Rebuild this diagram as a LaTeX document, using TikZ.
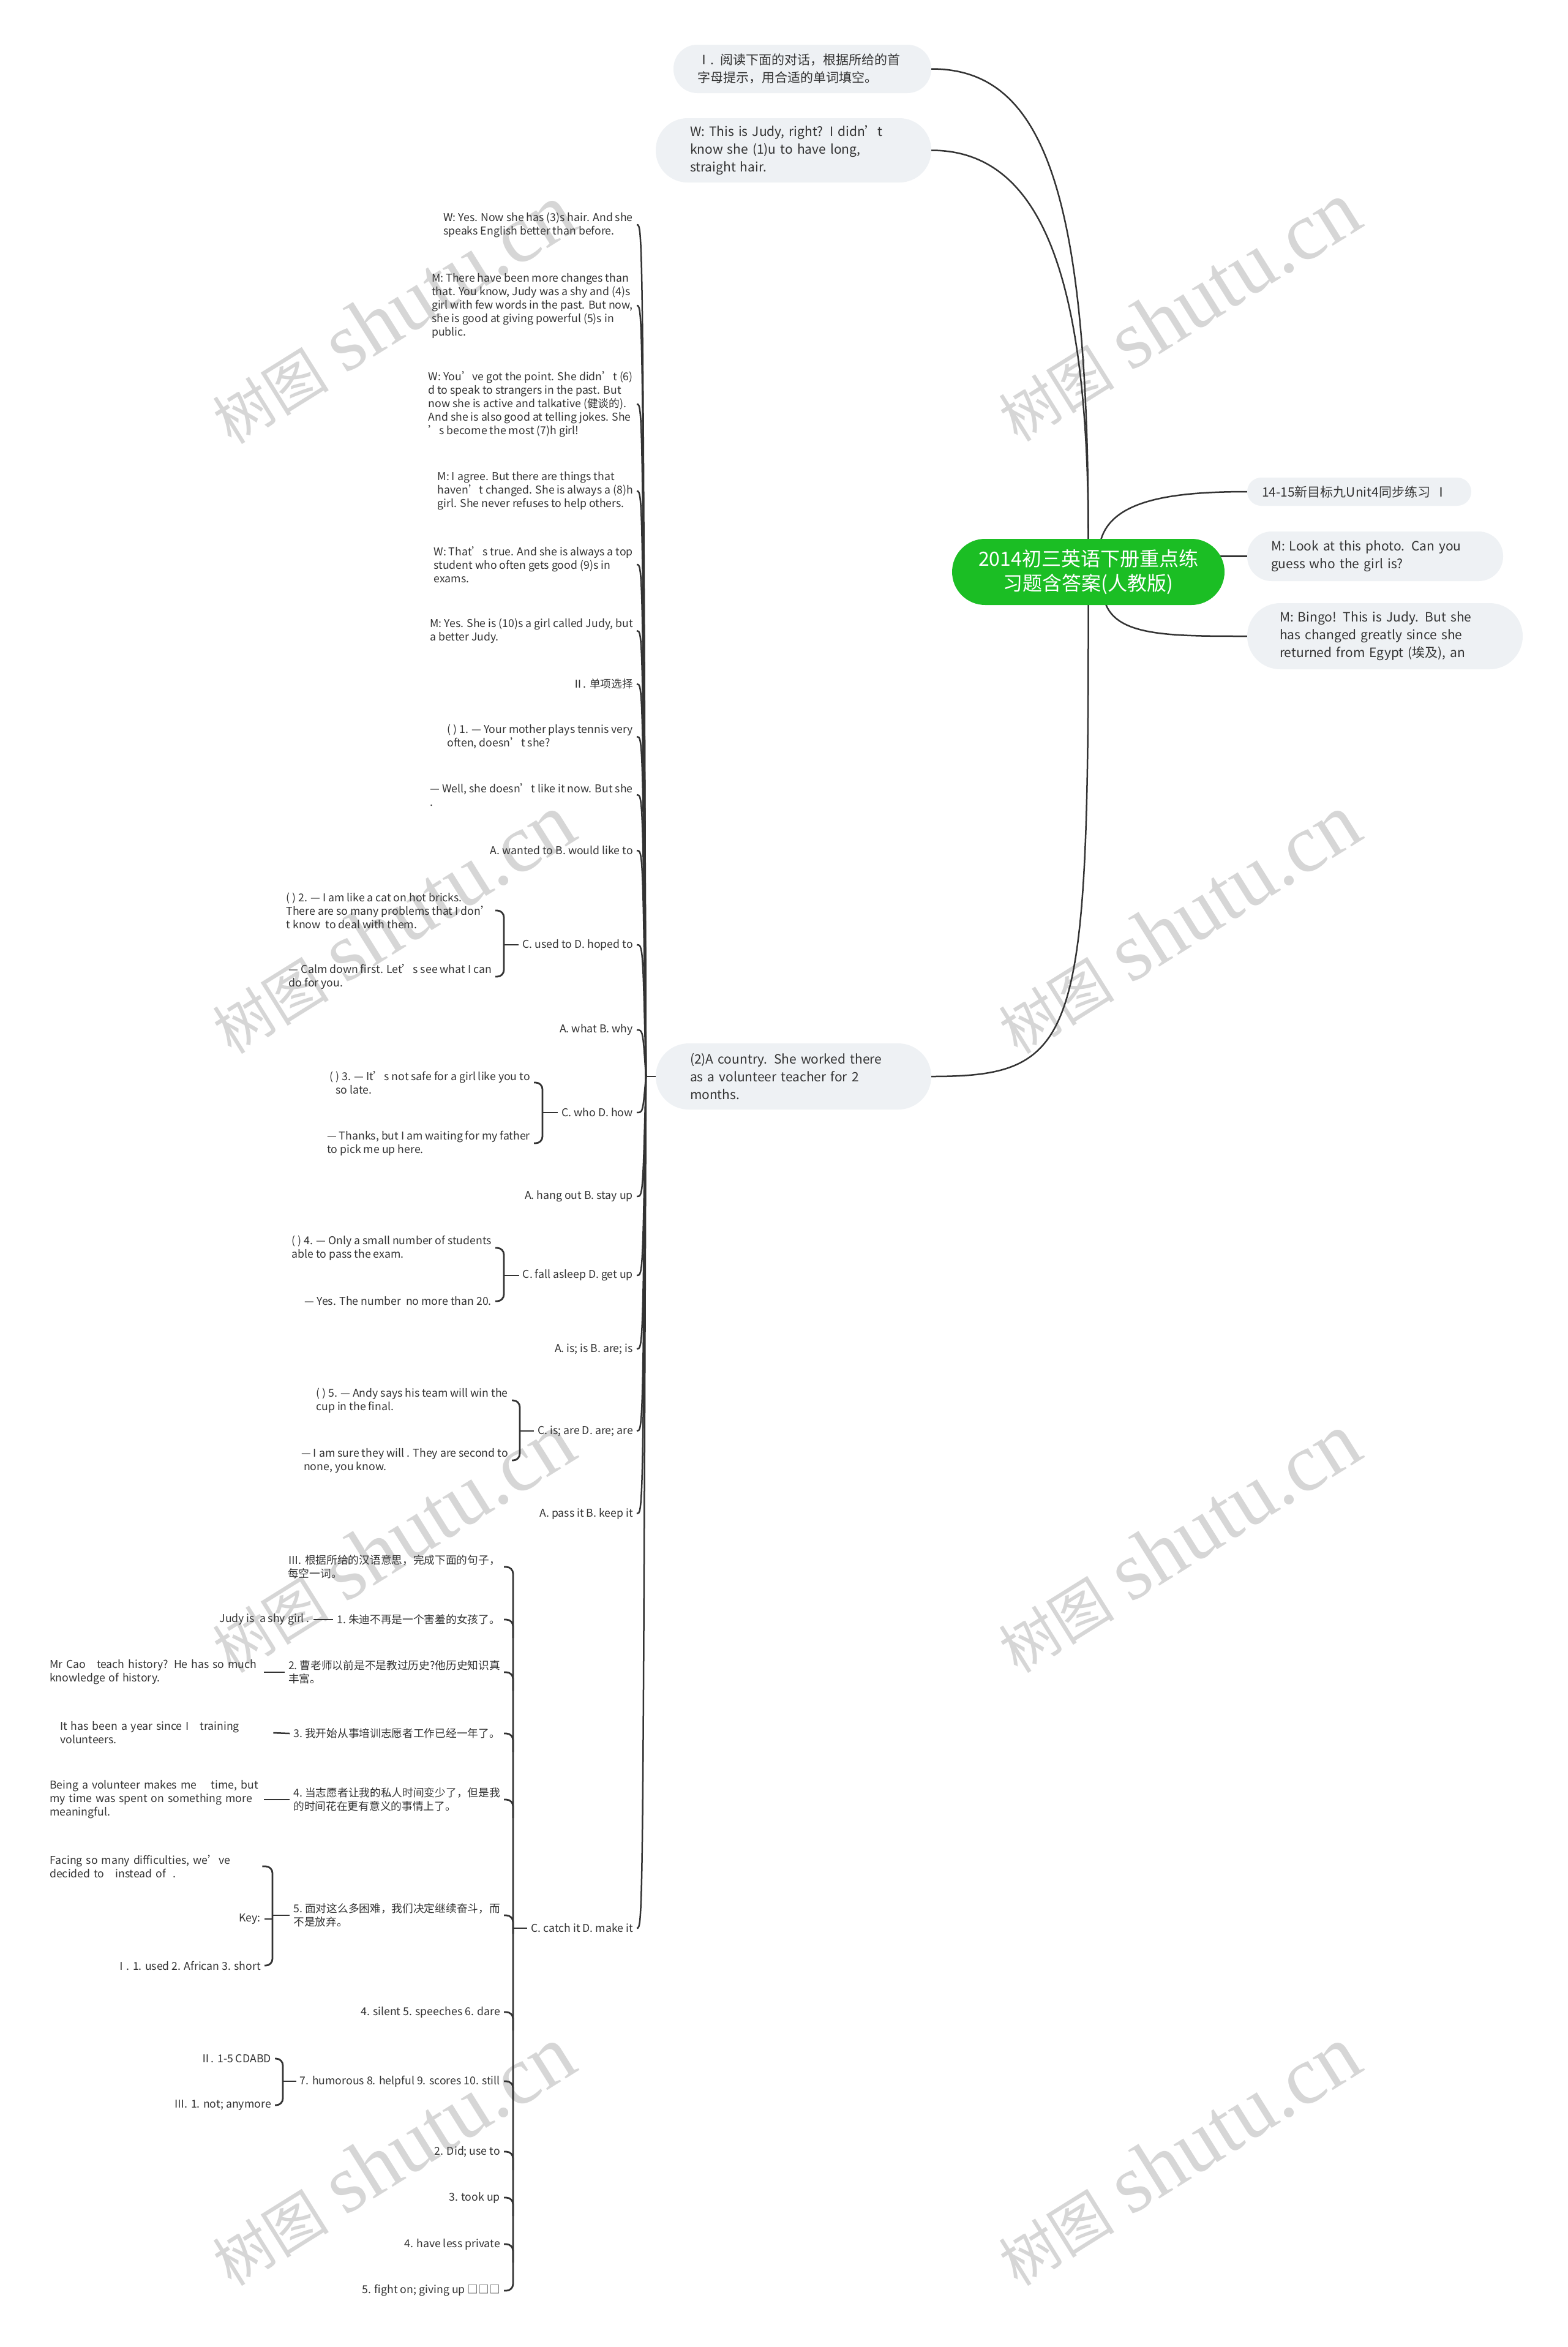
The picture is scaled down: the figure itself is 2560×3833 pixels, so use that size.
\documentclass[tikz,border=0pt]{standalone}
\usepackage{fontspec}
\setmainfont{Noto Sans CJK SC}
\newfontfamily\wmlat{Liberation Serif}
\usetikzlibrary{calc}
\definecolor{txt}{HTML}{333333}
\definecolor{lnc}{HTML}{333333}
\definecolor{pillc}{HTML}{EEF1F4}
\definecolor{rootc}{HTML}{1BBE24}
\definecolor{wmc}{HTML}{D6D6D6}
\pgfdeclarelayer{wmlayer}
\pgfdeclarelayer{lines}
\pgfsetlayers{wmlayer,lines,main}
\tikzset{
  sm/.style={font=\fontsize{17.7}{22}\selectfont, align=left, inner ysep=2pt, inner xsep=6pt, text=txt},
  pillbox/.style={font=\fontsize{21}{29}\selectfont, align=left, fill=pillc, inner sep=2pt, text=txt},
  rootbox/.style={font=\fontsize{32}{40}\selectfont, align=center, fill=rootc, text=white, inner sep=2pt},
  conn/.style={draw=lnc, line width=2.5pt},
  brk/.style={draw=lnc, line width=2.8pt, rounded corners=11pt},
  wmk/.style={text=wmc, rotate=32, inner sep=0pt},
}
\newcommand\wmtext{{\fontsize{95}{100}\selectfont 树图}\hspace{28pt}{\wmlat\fontsize{135}{140}\selectfont shutu.cn}}
\begin{document}
\begin{tikzpicture}[x=1pt,y=-1pt]
\useasboundingbox (0,0) rectangle (2560,3833);
\begin{pgfonlayer}{wmlayer}
\fill[white] (0,0) rectangle (2560,3833);
\node[wmk] (w1) at (641,513) {\wmtext};
\node[wmk] (w2) at (1924,509) {\wmtext};
\node[wmk] (w3) at (641,1509) {\wmtext};
\node[wmk] (w4) at (1924,1509) {\wmtext};
\node[wmk] (w5) at (641,2520) {\wmtext};
\node[wmk] (w6) at (1924,2520) {\wmtext};
\node[wmk] (w7) at (641,3521) {\wmtext};
\node[wmk] (w8) at (1924,3521) {\wmtext};
\end{pgfonlayer}

% root and pills
\node[rootbox, minimum width=445pt, minimum height=108pt, rounded corners=54pt] (root) at (1777.5,934) {2014初三英语下册重点练\\习题含答案(人教版)};
\node[pillbox, text width=343pt, minimum width=421pt, minimum height=79pt, rounded corners=39pt] (L1) at (1310.5,112.5) {Ⅰ. 阅读下面的对话，根据所给的首\\字母提示，用合适的单词填空。};
\node[pillbox, text width=338pt, minimum width=450pt, minimum height=105pt, rounded corners=52pt] (L2) at (1296,245.5) {W: This is Judy, right? I didn’t\\know she (1)u to have long,\\straight hair.};
\node[pillbox, text width=338pt, minimum width=450pt, minimum height=108pt, rounded corners=54pt] (L3) at (1296,1758) {(2)A country. She worked there\\as a volunteer teacher for 2\\months.};
\node[pillbox, text width=318pt, minimum width=366pt, minimum height=46pt, rounded corners=23pt] (R1) at (2220,803) {14-15新目标九Unit4同步练习 Ⅰ};
\node[pillbox, text width=340pt, minimum width=418pt, minimum height=81pt, rounded corners=40pt] (R2) at (2246,908.5) {M: Look at this photo. Can you\\guess who the girl is?};
\node[pillbox, text width=344pt, minimum width=450pt, minimum height=108pt, rounded corners=54pt] (R3) at (2262,1039) {M: Bingo! This is Judy. But she\\has changed greatly since she\\returned from Egypt (埃及), an};

% children of L3
\node[sm, anchor=east] (c1) at (1040,367) {W: Yes. Now she has (3)s hair. And she\\speaks English better than before.};
\node[sm, anchor=east] (c2) at (1040,499) {M: There have been more changes than\\that. You know, Judy was a shy and (4)s\\girl with few words in the past. But now,\\she is good at giving powerful (5)s in\\public.};
\node[sm, anchor=east] (c3) at (1040,660) {W: You’ve got the point. She didn’t (6)\\d to speak to strangers in the past. But\\now she is active and talkative (健谈的).\\And she is also good at telling jokes. She\\’s become the most (7)h girl!};
\node[sm, anchor=east] (c4) at (1040,802) {M: I agree. But there are things that\\haven’t changed. She is always a (8)h\\girl. She never refuses to help others.};
\node[sm, anchor=east] (c5) at (1040,922) {W: That’s true. And she is always a top\\student who often gets good (9)s in\\exams.};
\node[sm, anchor=east] (c6) at (1040,1030) {M: Yes. She is (10)s a girl called Judy, but\\a better Judy.};
\node[sm, anchor=east] (c7) at (1040,1117) {Ⅱ. 单项选择};
\node[sm, anchor=east] (c8) at (1040,1203) {( ) 1. — Your mother plays tennis very\\often, doesn’t she?};
\node[sm, anchor=east] (c9) at (1040,1298) {— Well, she doesn’t like it now. But she\\.};
\node[sm, anchor=east] (c10) at (1040,1389) {A. wanted to B. would like to};
\node[sm, anchor=east] (c11) at (1040,1543) {C. used to D. hoped to};
\node[sm, anchor=east] (c12) at (1040,1682) {A. what B. why};
\node[sm, anchor=east] (c13) at (1040,1817) {C. who D. how};
\node[sm, anchor=east] (c14) at (1040,1954) {A. hang out B. stay up};
\node[sm, anchor=east] (c15) at (1040,2083) {C. fall asleep D. get up};
\node[sm, anchor=east] (c16) at (1040,2203) {A. is; is B. are; is};
\node[sm, anchor=east] (c17) at (1040,2337) {C. is; are D. are; are};
\node[sm, anchor=east] (c18) at (1040,2472) {A. pass it B. keep it};
\node[sm, anchor=east] (c19) at (1040,3149) {C. catch it D. make it};

% question sub-children
\node[sm, anchor=east] (q2a) at (809,1487) {( ) 2. — I am like a cat on hot bricks.\\There are so many problems that I don’\\t know\ \ to deal with them.};
\node[sm, anchor=east] (q2b) at (809,1595) {— Calm down first. Let’s see what I can\\do for you.};
\node[sm, anchor=east] (q3a) at (872,1768) {( ) 3. — It’s not safe for a girl like you to\\\hspace*{10pt}so late.};
\node[sm, anchor=east] (q3b) at (872,1867) {— Thanks, but I am waiting for my father\\to pick me up here.};
\node[sm, anchor=east] (q4a) at (809,2038) {( ) 4. — Only a small number of students\\able to pass the exam.};
\node[sm, anchor=east] (q4b) at (809,2125) {— Yes. The number\ \ no more than 20.};
\node[sm, anchor=east] (q5a) at (836,2287) {( ) 5. — Andy says his team will win the\\cup in the final.};
\node[sm, anchor=east] (q5b) at (836,2385) {— I am sure they will . They are second to\\\hspace*{4pt}none, you know.};

% catch-it children
\node[sm, anchor=east] (k1) at (823,2559) {Ⅲ. 根据所给的汉语意思，完成下面的句子，\\每空一词。};
\node[sm, anchor=east] (k2) at (823,2645) {1.~朱迪不再是一个害羞的女孩了。};
\node[sm, anchor=east] (k3) at (823,2731) {2.~曹老师以前是不是教过历史?他历史知识真\\丰富。};
\node[sm, anchor=east] (k4) at (823,2831) {3.~我开始从事培训志愿者工作已经一年了。};
\node[sm, anchor=east] (k5) at (823,2939) {4.~当志愿者让我的私人时间变少了，但是我\\的时间花在更有意义的事情上了。};
\node[sm, anchor=east] (k6) at (823,3128) {5.~面对这么多困难，我们决定继续奋斗，而\\不是放弃。};
\node[sm, anchor=east] (k7) at (823,3286) {4. silent 5. speeches 6. dare};
\node[sm, anchor=east] (k8) at (823,3399) {7. humorous 8. helpful 9. scores 10. still};
\node[sm, anchor=east] (k9) at (823,3514) {2. Did; use to};
\node[sm, anchor=east] (k10) at (823,3589) {3. took up};
\node[sm, anchor=east] (k11) at (823,3665) {4. have less private};
\node[sm, anchor=east] (k12) at (823,3741) {5. fight on; giving up □□□};

% leaves of catch-it children
\node[sm, anchor=east] (m2) at (512,2645) {Judy is\ \ a shy girl .};
\node[sm, anchor=west, text width=344pt] (m3) at (75,2731) {Mr Cao\ \ \ teach history? He has so much\\knowledge of history.};
\node[sm, anchor=west, text width=342pt] (m4) at (92,2830) {It has been a year since I\ \ \ training\\volunteers.};
\node[sm, anchor=west, text width=344pt] (m5) at (75,2939) {Being a volunteer makes me\ \ \ \ time, but\\my time was spent on something more\\meaningful.};
\node[sm, anchor=west, text width=341pt] (f1) at (75,3048) {Facing so many difficulties, we’ve\\decided to\ \ \ instead of\ \ .};
\node[sm, anchor=east] (f2) at (432,3134) {Key:};
\node[sm, anchor=east] (f3) at (432,3210) {Ⅰ. 1. used 2. African 3. short};
\node[sm, anchor=east] (h1) at (449,3362) {Ⅱ. 1-5 CDABD};
\node[sm, anchor=east] (h2) at (449,3438) {Ⅲ. 1. not; anymore};

\begin{pgfonlayer}{lines}
% root connectors
\draw[conn] (root.north) .. controls (1778,300) and (1700,112.5) .. (L1.east);
\draw[conn] (root.north) .. controls (1778,450) and (1700,245.5) .. (L2.east);
\draw[conn] (root.south) .. controls (1778,1700) and (1760,1758) .. (L3.east);
\coordinate (rt) at (1795,900);
\draw[conn] (rt) .. controls (1800,820) and (1900,803) .. (R1.west);
\draw[conn] (root.center |- R2.west) -- (R2.west);
\coordinate (rb) at (1802,970);
\draw[conn] (rb) .. controls (1810,1039) and (1900,1039) .. (R3.west);

% L3 strands
\coordinate (J) at (1055,1758);
\draw[conn] (L3.west) -- (J);
\foreach \i in {1,...,19} {
  \draw[conn] (J) .. controls ($(J|-c\i.east)+(-5,0)$) .. (c\i.east);
}

% question brackets
\coordinate (bq2) at (823,1543);
\draw[brk] (q2a.east) -- (q2a.east -| bq2) -- (q2b.east -| bq2) -- (q2b.east);
\draw[conn] (bq2) -- (c11.west);
\coordinate (bq3) at (886,1817);
\draw[brk] (q3a.east) -- (q3a.east -| bq3) -- (q3b.east -| bq3) -- (q3b.east);
\draw[conn] (bq3) -- (c13.west);
\coordinate (bq4) at (823,2083);
\draw[brk] (q4a.east) -- (q4a.east -| bq4) -- (q4b.east -| bq4) -- (q4b.east);
\draw[conn] (bq4) -- (c15.west);
\coordinate (bq5) at (849,2337);
\draw[brk] (q5a.east) -- (q5a.east -| bq5) -- (q5b.east -| bq5) -- (q5b.east);
\draw[conn] (bq5) -- (c17.west);

% catch-it bracket
\coordinate (bcat) at (838,3149);
\draw[brk] (k1.east) -- (k1.east -| bcat) -- (k12.east -| bcat) -- (k12.east);
\foreach \i in {2,...,11} {
  \draw[brk] (k\i.east) -- (k\i.east -| bcat) -- ++(0,30);
}
\draw[conn] (bcat) -- (c19.west);

% leaves
\draw[conn] (m2.east) -- (k2.west);
\draw[conn] (m3.east) -- (k3.west);
\draw[conn] (m4.east) -- (k4.west);
\draw[conn] (m5.east) -- (k5.west);
\coordinate (bf) at (445,3128);
\draw[brk] (f1.east) -- (f1.east -| bf) -- (f3.east -| bf) -- (f3.east);
\draw[conn] (f2.east) -- (f2.east -| bf);
\draw[conn] (bf) -- (k6.west);
\coordinate (bh) at (462,3399);
\draw[brk] (h1.east) -- (h1.east -| bh) -- (h2.east -| bh) -- (h2.east);
\draw[conn] (bh) -- (k8.west);
\end{pgfonlayer}
\end{tikzpicture}
\end{document}
